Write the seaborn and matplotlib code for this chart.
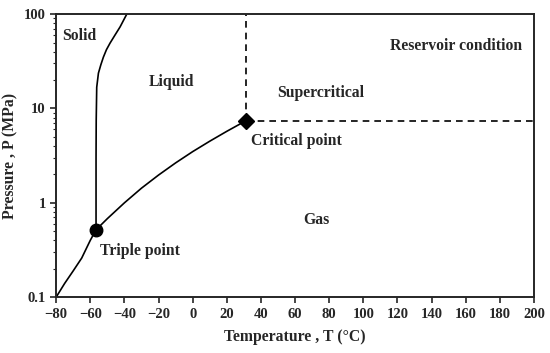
import numpy as np
import pandas as pd
import matplotlib
matplotlib.use("Agg")
import matplotlib.pyplot as plt
import seaborn as sns

# phase boundaries of CO2
subl_T = [-80, -75, -70, -65, -60, -56.6]
subl_P = [0.10, 0.14, 0.19, 0.26, 0.40, 0.518]

vap_T = [-56.6, -50, -40, -30, -20, -10, 0, 10, 20, 31]
vap_P = [0.518, 0.68, 1.0, 1.43, 1.97, 2.65, 3.49, 4.5, 5.73, 7.38]

melt_T = [-56.6, -56.6, -56.5, -56.2, -55.2, -53.8, -52.3, -50.5, -48.4, -45.5, -42.5, -38.6]
melt_P = [0.518, 3.0, 7.5, 16.8, 23.7, 29.0, 35.0, 42.0, 49.3, 60.0, 73.3, 100.0]

triple = (-56.6, 0.518)
critical = (31.0, 7.38)

labels = ["Solid", "Liquid", "Supercritical", "Reservoir condition",
          "Critical point", "Triple point", "Gas"]
label_T = [-76.5, -25.5, 49.5, 115.5, 34.0, -54.0, 64.5]
label_P = [58, 19, 14.5, 46, 4.5, 0.31, 0.66]

sns.set_style("ticks")
plt.rcParams['font.family'] = ['Liberation Serif', 'DejaVu Serif']
plt.rcParams['font.weight'] = 'bold'

fig, ax = plt.subplots(figsize=(5.5, 3.53), dpi=100)

df = pd.concat([
    pd.DataFrame({"T": subl_T, "P": subl_P, "line": "subl"}),
    pd.DataFrame({"T": vap_T, "P": vap_P, "line": "vap"}),
    pd.DataFrame({"T": melt_T, "P": melt_P, "line": "melt"}),
])
for name, grp in df.groupby("line"):
    sns.lineplot(data=grp, x="T", y="P", ax=ax, color="black", lw=1.2,
                 sort=False, estimator=None)

# dashed lines from critical point
ax.plot([critical[0], critical[0]], [critical[1], 100], ls=(0, (4, 3)), color="black", lw=1.2)
ax.plot([critical[0], 200], [critical[1], critical[1]], ls=(0, (4, 3)), color="black", lw=1.2)

ax.plot(*triple, marker="o", ms=9, color="black")
ax.plot(*critical, marker="D", ms=8, color="black")

for t, x, y in zip(labels, label_T, label_P):
    ax.text(x, y, t, fontsize=11.3, fontweight="bold", va="center", ha="left")

ax.set_yscale("log")
ax.set_xlim(-80, 200)
ax.set_ylim(0.1, 100)
ax.set_xticks(np.arange(-80, 201, 20))
ax.set_yticks([0.1, 1, 10, 100])
ax.set_yticklabels(["0.1", "1", "10", "100"])
ax.tick_params(labelsize=10.5, width=1.2, length=4)
ax.tick_params(which="minor", length=2, width=0.8)
ax.set_xlabel("Temperature , T (°C)", fontsize=11.3, fontweight="bold", labelpad=6)
ax.set_ylabel("Pressure , P (MPa)", fontsize=11.3, fontweight="bold")
for s in ax.spines.values():
    s.set_linewidth(1.4)

plt.subplots_adjust(left=0.102, right=0.971, top=0.96, bottom=0.158)
fig.savefig("out.png", dpi=100)
